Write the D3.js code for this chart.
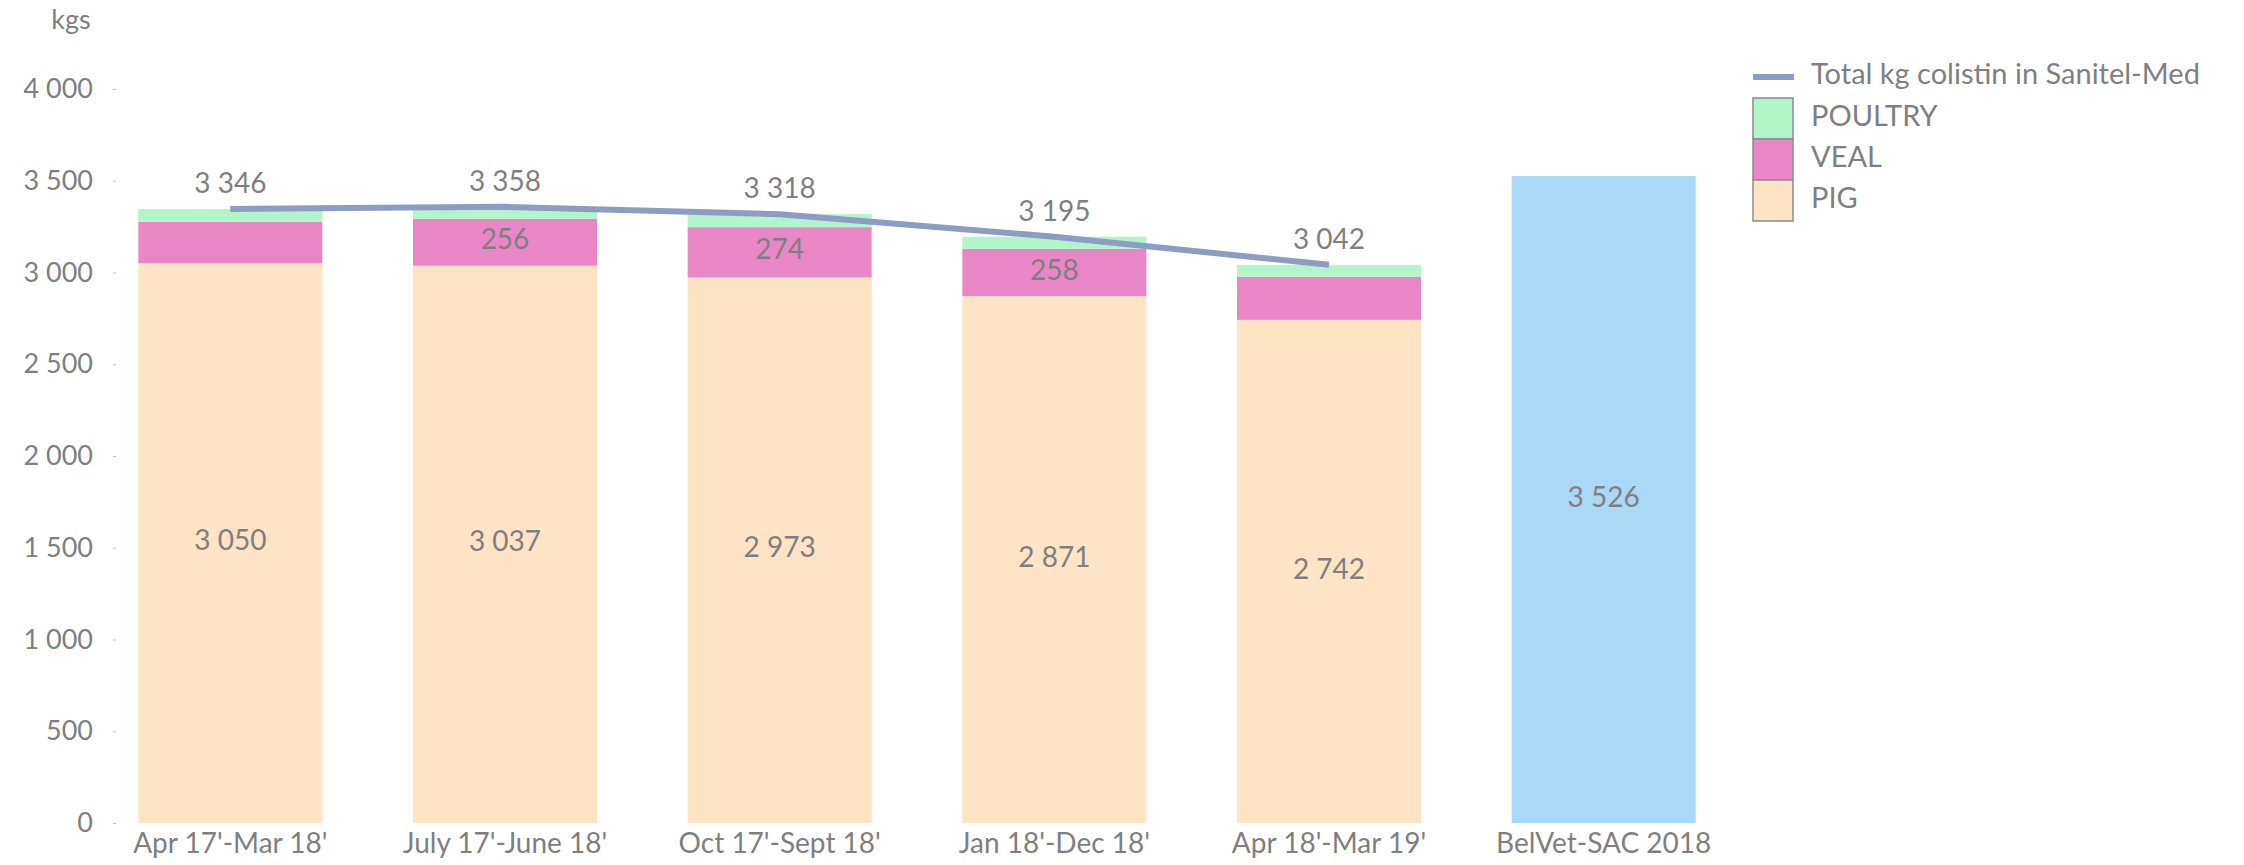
<!DOCTYPE html>
<html>
<head>
<meta charset="utf-8">
<script src="https://cdn.jsdelivr.net/npm/d3@7"></script>
<style>
  body { margin: 0; background: #fff; }
  svg text { font-family: Lato, "Open Sans", sans-serif; fill: #7f7f7f; }
</style>
</head>
<body>
<div id="chart"></div>
<script>
// periods (first five stacked, last one the BelVet-SAC reference bar)
let periods = ["Apr 17'-Mar 18'", "July 17'-June 18'", "Oct 17'-Sept 18'", "Jan 18'-Dec 18'", "Apr 18'-Mar 19'"];
let belvetLabel = "BelVet-SAC 2018";
let belvetValue = 3526;

let pig = [3050, 3037, 2973, 2871, 2742];
let veal = [226, 256, 274, 258, 235];
let poultry = [70, 65, 71, 66, 65];
let totalSanitel = [3346, 3358, 3318, 3195, 3042];
let showVealLabel = [false, true, true, true, false];

let yTicks = [0, 500, 1000, 1500, 2000, 2500, 3000, 3500, 4000];

let colors = {PIG: "#fce4c5", VEAL: "#e986c5", POULTRY: "#b1f5c8", belvet: "#aad8f7", line: "#8d9cc3"};

let width = 2244, height = 865;
let fmt = n => d3.format(",")(n).replace(/,/g, " ");

let svg = d3.select("#chart").append("svg")
    .attr("width", width)
    .attr("height", height);

let categories = periods.concat([belvetLabel]);

let x = d3.scaleBand()
    .domain(categories)
    .range([93, 1741])
    .paddingInner(0.33)
    .paddingOuter(0.165);

let y = d3.scaleLinear()
    .domain([0, 4000])
    .range([823, 89]);

// y axis: labels + tiny tick dashes, no domain line
let yAxis = svg.append("g")
    .attr("transform", "translate(116,0)")
    .call(d3.axisLeft(y).tickValues(yTicks).tickSize(3).tickPadding(20).tickFormat(fmt));
yAxis.select(".domain").remove();
yAxis.selectAll("line").attr("stroke", "#bfbfbf");
yAxis.selectAll("text").attr("font-size", 27).style("fill", "#7f7f7f");

svg.append("text")
    .attr("x", 71).attr("y", 22)
    .attr("text-anchor", "middle").attr("dominant-baseline", "middle")
    .attr("font-size", 27)
    .text("kgs");

// x axis labels
let xAxis = svg.append("g")
    .attr("transform", "translate(0,823)")
    .call(d3.axisBottom(x).tickSize(0).tickPadding(10));
xAxis.select(".domain").remove();
xAxis.selectAll("text").attr("font-size", 28).style("fill", "#7f7f7f");

// stacked bars
let rows = periods.map((p, i) => ({period: p, PIG: pig[i], VEAL: veal[i], POULTRY: poultry[i]}));
let keys = ["PIG", "VEAL", "POULTRY"];
let stacked = d3.stack().keys(keys)(rows);

svg.append("g").selectAll("g")
    .data(stacked)
    .join("g")
    .attr("fill", d => colors[d.key])
    .selectAll("rect")
    .data(d => d)
    .join("rect")
    .attr("x", d => x(d.data.period))
    .attr("width", x.bandwidth())
    .attr("y", d => y(d[1]))
    .attr("height", d => y(d[0]) - y(d[1]));

// BelVet-SAC bar
svg.append("rect")
    .attr("x", x(belvetLabel))
    .attr("width", x.bandwidth())
    .attr("y", y(belvetValue))
    .attr("height", y(0) - y(belvetValue))
    .attr("fill", colors.belvet);

let labels = svg.append("g")
    .attr("font-size", 28)
    .attr("text-anchor", "middle")
    .attr("dominant-baseline", "middle");

labels.selectAll(".pig-label")
    .data(rows)
    .join("text")
    .attr("class", "pig-label")
    .attr("x", d => x(d.period) + x.bandwidth() / 2)
    .attr("y", d => y(d.PIG / 2))
    .text(d => fmt(d.PIG));

labels.selectAll(".veal-label")
    .data(rows.filter((d, i) => showVealLabel[i]))
    .join("text")
    .attr("class", "veal-label")
    .attr("x", d => x(d.period) + x.bandwidth() / 2)
    .attr("y", d => y(d.PIG + d.VEAL / 2))
    .text(d => fmt(d.VEAL));

labels.append("text")
    .attr("x", x(belvetLabel) + x.bandwidth() / 2)
    .attr("y", y(belvetValue / 2))
    .text(fmt(belvetValue));

// total line
let linePts = periods.map((p, i) => ({period: p, v: totalSanitel[i]}));
svg.append("path")
    .datum(linePts)
    .attr("fill", "none")
    .attr("stroke", colors.line)
    .attr("stroke-width", 6)
    .attr("d", d3.line()
        .x(d => x(d.period) + x.bandwidth() / 2)
        .y(d => y(d.v)));

labels.selectAll(".total-label")
    .data(linePts)
    .join("text")
    .attr("class", "total-label")
    .attr("x", d => x(d.period) + x.bandwidth() / 2)
    .attr("y", d => y(d.v) - 23)
    .text(d => fmt(d.v));

// legend
let legend = svg.append("g").attr("font-size", 29);
legend.append("line")
    .attr("x1", 1753).attr("x2", 1794)
    .attr("y1", 77).attr("y2", 77)
    .attr("stroke", colors.line).attr("stroke-width", 6);
legend.append("text")
    .attr("x", 1811).attr("y", 77)
    .attr("dominant-baseline", "middle")
    .text("Total kg colistin in Sanitel-Med");

let legendKeys = ["POULTRY", "VEAL", "PIG"];
let lg = legend.selectAll(".sw")
    .data(legendKeys)
    .join("g")
    .attr("class", "sw")
    .attr("transform", (d, i) => `translate(1753,${98 + i * 41})`);
lg.append("rect")
    .attr("width", 40).attr("height", 41)
    .attr("fill", d => colors[d])
    .attr("stroke", "#8c8c8c").attr("stroke-width", 1.5);
lg.append("text")
    .attr("x", 58).attr("y", 20.5)
    .attr("dominant-baseline", "middle")
    .text(d => d);
</script>
</body>
</html>
